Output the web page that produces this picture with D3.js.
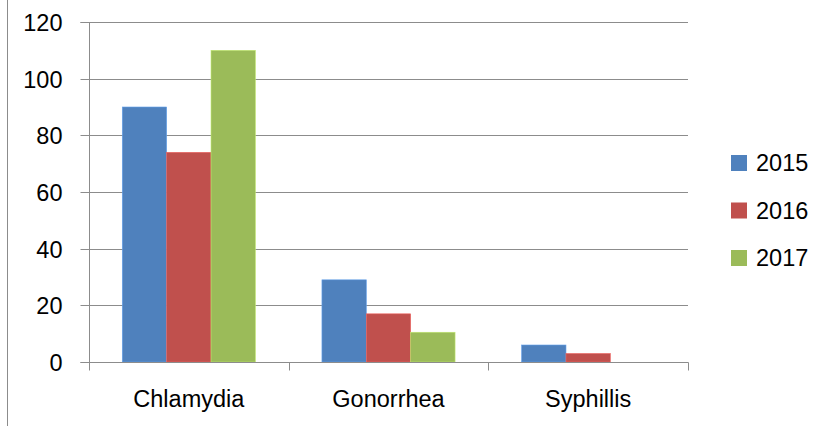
<!DOCTYPE html>
<html>
<head>
<meta charset="utf-8">
<script src="https://cdn.jsdelivr.net/npm/d3@7"></script>
<style>
  body { margin: 0; background: #fff; }
  svg { display: block; }
  text { font-family: "Liberation Sans", Arial, sans-serif; fill: #000; }
</style>
</head>
<body>
<svg id="chart" width="829" height="426"></svg>
<script>
const categories = ['Chlamydia', 'Gonorrhea', 'Syphillis'];
const years = ['2015', '2016', '2017'];
const values2015 = [90, 29, 6];
const values2016 = [74, 17, 3];
const values2017 = [110, 10.5, 0];
const yTicks = [0, 20, 40, 60, 80, 100, 120];
const colors = ['#4F81BD', '#C0504D', '#9BBB59'];

(function() {
  const series = [values2015, values2016, values2017];

  const svg = d3.select('#chart');
  const plotLeft = 89, plotRight = 688, plotTop = 22, plotBottom = 362;
  const fontSize = '23.5px';

  const x = d3.scaleBand().domain(categories).range([plotLeft, plotRight]);
  const inner = d3.scaleBand().domain(years).range([0, x.bandwidth()])
    .paddingOuter(0.75).paddingInner(0);
  const y = d3.scaleLinear().domain([0, 120]).range([plotBottom, plotTop]);

  // outer chart border (left edge only visible)
  svg.append('line')
    .attr('x1', 7.5).attr('x2', 7.5).attr('y1', 0).attr('y2', 426)
    .attr('stroke', '#8c8c8c').attr('stroke-width', 1);

  // gridlines
  svg.append('g')
    .selectAll('line')
    .data(yTicks.filter(d => d > 0))
    .join('line')
    .attr('x1', plotLeft).attr('x2', plotRight)
    .attr('y1', d => Math.round(y(d)) + 0.5).attr('y2', d => Math.round(y(d)) + 0.5)
    .attr('stroke', '#8c8c8c').attr('stroke-width', 1);

  // bars
  years.forEach((yr, i) => {
    svg.append('g')
      .selectAll('rect')
      .data(categories)
      .join('rect')
      .attr('x', (c) => x(c) + inner(yr))
      .attr('width', inner.bandwidth())
      .attr('y', (c, j) => y(series[i][j]))
      .attr('height', (c, j) => plotBottom - y(series[i][j]))
      .attr('fill', colors[i])
      .attr('stroke', d3.color(colors[i]).brighter(0.6))
      .attr('stroke-width', 0.6);
  });

  // y axis
  const yAxis = d3.axisLeft(y).tickValues(yTicks).tickSize(9).tickPadding(18);
  const gY = svg.append('g')
    .attr('transform', 'translate(' + (plotLeft + 0.5) + ',0)')
    .call(yAxis);
  gY.select('.domain').attr('stroke', '#8c8c8c')
    .attr('d', 'M-9,' + (plotTop + 0.5) + 'H0V' + (plotBottom + 0.5) + 'H-9');
  gY.selectAll('.tick line').attr('stroke', '#8c8c8c');
  gY.selectAll('.tick').attr('transform', d => 'translate(0,' + (Math.round(y(d)) + 0.5) + ')');
  gY.selectAll('.tick text').style('font-size', fontSize).attr('dy', '0.36em');
  gY.attr('font-family', null).attr('font-size', null);

  // x axis
  const xAxis = d3.axisBottom(x).tickSize(0).tickPadding(28);
  const gX = svg.append('g')
    .attr('transform', 'translate(0,' + (plotBottom + 0.5) + ')')
    .call(xAxis);
  gX.select('.domain').attr('stroke', '#8c8c8c').attr('d', 'M' + plotLeft + ',0H' + (plotRight + 0.5));
  gX.selectAll('.tick text').style('font-size', fontSize);
  gX.attr('font-family', null).attr('font-size', null);
  gX.append('g')
    .selectAll('line')
    .data(categories.map(c => x(c)).concat([plotRight]))
    .join('line')
    .attr('x1', d => Math.round(d) + 0.5).attr('x2', d => Math.round(d) + 0.5)
    .attr('y1', 0).attr('y2', 8)
    .attr('stroke', '#8c8c8c');

  // legend
  const legend = svg.append('g');
  years.forEach((yr, i) => {
    const cy = 163 + i * 47.5;
    legend.append('rect')
      .attr('x', 731).attr('y', cy - 8).attr('width', 16).attr('height', 16)
      .attr('fill', colors[i]);
    legend.append('text')
      .attr('x', 756).attr('y', cy).attr('dy', '0.36em')
      .style('font-size', fontSize)
      .text(yr);
  });
})();
</script>
</body>
</html>
